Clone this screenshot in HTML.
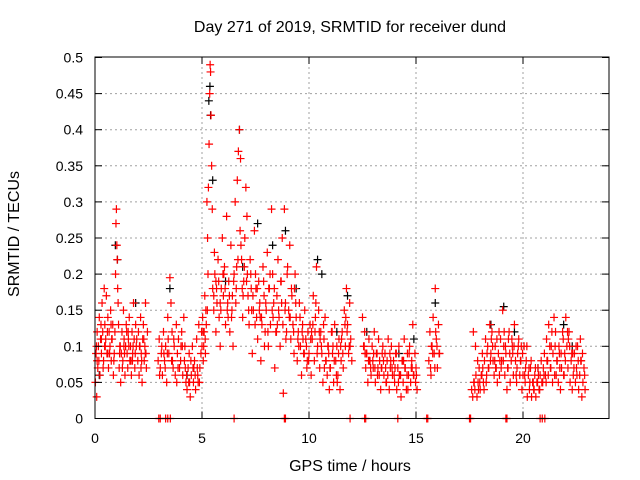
<!DOCTYPE html>
<html><head><meta charset="utf-8"><style>
body{margin:0;background:#fff}
svg{display:block}
text{font-family:"Liberation Sans",sans-serif;font-size:14px;fill:#000}
.big{font-size:16px}
</style></head><body>
<svg id="c" width="640" height="480">
<text class="big" x="350" y="32" text-anchor="middle">Day 271 of 2019, SRMTID for receiver dund</text>
<text class="big" x="350" y="471" text-anchor="middle">GPS time / hours</text>
<text class="big" x="19" y="234" text-anchor="middle" transform="rotate(-90 19 234)">SRMTID / TECUs</text>
<g id="grid"></g><g id="marks"></g><g id="axes"></g>
</svg>
<script>
const xTicks=[0,5,10,15,20];
const yTicks=[0,0.05,0.1,0.15,0.2,0.25,0.3,0.35,0.4,0.45,0.5];
const yLabels=["0","0.05","0.1","0.15","0.2","0.25","0.3","0.35","0.4","0.45","0.5"];
const redT=[0.02,0.05,0.08,0.1,0.13,0.16,0.2,0.23,0.26,0.3,0.33,0.36,0.4,0.43,0.46,0.5,0.53,0.56,0.6,0.63,0.66,0.7,0.73,0.76,0.8,0.83,0.86,0.9,0.93,0.96,0.98,
1.0,1.02,1.04,1.06,1.1,1.13,1.16,1.2,1.23,1.26,1.3,1.33,1.36,1.4,1.43,1.46,1.5,1.53,1.56,1.6,1.63,1.66,1.7,1.73,1.76,1.8,1.83,1.86,1.9,1.93,
2.0,2.03,2.06,2.1,2.13,2.16,2.2,2.23,2.26,2.3,2.33,2.36,2.4,2.45,
2.95,3.0,3.05,3.1,3.15,3.2,3.25,3.3,3.35,3.4,3.45,3.5,3.55,3.6,3.65,3.7,3.75,3.8,3.85,3.9,3.95,
4.0,4.05,4.1,4.15,4.2,4.25,4.3,4.35,4.4,4.45,4.5,4.55,4.6,4.65,4.7,4.75,4.8,4.85,4.9,4.95,
5.0,5.03,5.06,5.1,5.13,5.16,5.2,5.23,5.26,5.3,5.33,5.36,5.38,5.4,5.42,5.45,5.48,5.5,5.55,5.6,5.65,5.7,5.75,5.8,5.85,5.9,5.95,
6.0,6.05,6.1,6.15,6.2,6.25,6.3,6.35,6.4,6.45,6.5,6.55,6.6,6.65,6.7,6.75,6.8,6.85,6.9,6.95,
7.0,7.05,7.1,7.15,7.2,7.25,7.3,7.35,7.4,7.45,7.5,7.55,7.6,7.65,7.7,7.75,7.8,7.85,7.9,7.95,
8.0,8.05,8.1,8.15,8.2,8.25,8.3,8.35,8.4,8.45,8.5,8.55,8.6,8.65,8.7,8.75,8.8,8.85,8.9,8.95,
9.0,9.05,9.1,9.15,9.2,9.25,9.3,9.35,9.4,9.45,9.5,9.55,9.6,9.65,9.7,9.75,9.8,9.85,9.9,9.95,
10.0,10.05,10.1,10.15,10.2,10.25,10.3,10.35,10.4,10.45,10.5,10.55,10.6,10.65,10.7,10.75,10.8,10.85,10.9,10.95,
11.0,11.05,11.1,11.15,11.2,11.25,11.3,11.35,11.4,11.45,11.5,11.55,11.6,11.65,11.7,11.75,11.8,11.85,11.9,11.95,12.0,
12.5,12.55,12.6,12.65,12.7,12.75,12.8,12.85,12.9,12.95,
13.0,13.05,13.1,13.15,13.2,13.25,13.3,13.35,13.4,13.45,13.5,13.55,13.6,13.65,13.7,13.75,13.8,13.85,13.9,13.95,
14.0,14.05,14.1,14.15,14.2,14.25,14.3,14.35,14.4,14.45,14.5,14.55,14.6,14.65,14.7,14.75,14.8,14.85,14.9,14.95,15.0,15.05,
15.6,15.65,15.7,15.75,15.8,15.85,15.9,15.95,16.0,16.05,16.1,
17.6,17.65,17.7,17.75,17.8,17.85,17.9,17.95,
18.0,18.05,18.1,18.15,18.2,18.25,18.3,18.35,18.4,18.45,18.5,18.55,18.6,18.65,18.7,18.75,18.8,18.85,18.9,18.95,
19.0,19.05,19.1,19.15,19.2,19.25,19.3,19.35,19.4,19.45,19.5,19.55,19.6,19.65,19.7,19.75,19.8,19.85,19.9,19.95,
20.0,20.05,20.1,20.15,20.2,20.25,20.3,20.35,20.4,20.45,20.5,20.55,20.6,20.65,20.7,20.75,20.8,20.85,20.9,20.95,
21.0,21.05,21.1,21.15,21.2,21.25,21.3,21.35,21.4,21.45,21.5,21.55,21.6,21.65,21.7,21.75,21.8,21.85,21.9,21.95,
22.0,22.05,22.1,22.15,22.2,22.25,22.3,22.35,22.4,22.45,22.5,22.55,22.6,22.65,22.7,22.75,22.8,22.85,22.9];
const redV=[.05,.09,.03,.12,.07,.1,.14,.06,.11,.09,.16,.12,.08,.18,.13,.11,.17,.09,.14,.07,.12,.1,.15,.08,.11,.13,.06,.09,.12,.2,.27,
.29,.24,.22,.18,.13,.07,.1,.05,.09,.12,.08,.15,.11,.06,.1,.13,.09,.07,.11,.14,.08,.1,.06,.12,.09,.16,.11,.07,.13,.1,
.08,.12,.06,.1,.14,.09,.05,.11,.13,.08,.1,.16,.07,.12,
.08,.11,.07,.09,.06,.12,.08,.1,.05,.14,.09,.195,.16,.12,.07,.1,.06,.13,.09,.11,.07,
.08,.12,.06,.14,.1,.05,.04,.07,.09,.03,.06,.1,.05,.08,.04,.11,.06,.13,.07,.09,
.1,.14,.08,.12,.17,.09,.13,.3,.25,.32,.38,.45,.49,.48,.42,.35,.29,.18,.15,.2,.12,.16,.22,.14,.1,.18,.25,
.17,.21,.13,.28,.16,.19,.12,.24,.15,.1,.2,.3,.18,.33,.37,.4,.36,.22,.14,.19,
.25,.32,.28,.17,.13,.22,.18,.09,.15,.26,.2,.14,.11,.19,.16,.08,.13,.21,.17,.12,
.15,.23,.1,.18,.13,.29,.2,.16,.07,.12,.17,.22,.14,.1,.19,.25,.035,.29,.16,.12,
.21,.15,.24,.11,.17,.13,.09,.2,.14,.08,.12,.16,.1,.06,.13,.09,.15,.11,.07,.12,
.09,.13,.06,.11,.17,.08,.14,.21,.1,.15,.07,.12,.09,.05,.11,.14,.08,.06,.1,.04,
.07,.12,.09,.05,.13,.08,.1,.06,.11,.04,.08,.12,.07,.15,.1,.18,.13,.09,.16,.11,.08,
.14,.1,.12,.07,.09,.05,.11,.08,.06,.1,
.07,.12,.05,.09,.06,.11,.08,.04,.07,.1,.06,.09,.05,.08,.11,.04,.07,.1,.06,.08,
.05,.09,.04,.07,.1,.06,.03,.08,.05,.11,.07,.04,.09,.06,.1,.05,.08,.13,.06,.09,.07,.04,
.08,.12,.06,.1,.14,.09,.18,.11,.07,.13,.09,
.04,.03,.05,.04,.06,.03,.05,.07,
.04,.06,.09,.05,.08,.11,.06,.1,.07,.13,.09,.12,.08,.06,.1,.07,.05,.09,.06,.11,
.08,.15,.1,.06,.09,.04,.07,.12,.05,.08,.1,.06,.13,.08,.05,.09,.11,.06,.08,.04,
.06,.1,.05,.08,.03,.06,.04,.07,.03,.05,.04,.06,.03,.05,.07,.04,.06,.08,.05,.07,
.09,.06,.11,.08,.13,.1,.07,.12,.09,.14,.1,.06,.08,.05,.09,.04,.07,.12,.06,.09,
.14,.1,.07,.12,.05,.08,.04,.06,.09,.05,.07,.1,.04,.06,.08,.03,.05,.07,.04];
const red2T=[0.1,0.3,0.45,0.6,0.75,1.15,1.35,1.55,1.75,1.95,2.15,2.35,3.02,3.22,3.42,3.62,3.82,4.02,4.22,4.42,4.62,4.82,5.05,5.15,5.25,5.55,5.65,5.85,6.02,6.22,6.42,6.62,6.82,6.92,7.12,7.32,7.52,7.72,7.92,8.12,8.32,8.52,8.72,8.92,9.12,9.32,9.52,9.72,9.92,10.12,10.32,10.52,10.72,10.92,11.12,11.32,11.52,11.72,11.92,12.62,12.82,13.02,13.22,13.42,13.62,13.82,14.02,14.22,14.42,14.62,14.82,15.02,15.72,15.92,17.72,17.92,18.12,18.32,18.52,18.72,18.92,19.12,19.32,19.52,19.72,19.92,20.12,20.32,20.52,20.72,20.92,21.12,21.32,21.52,21.72,21.92,22.12,22.32,22.52,22.72];
const red2V=[.08,.11,.1,.09,.13,.09,.1,.12,.08,.11,.07,.09,.06,.09,.11,.08,.05,.1,.07,.05,.07,.05,.12,.11,.15,.17,.19,.16,.2,.14,.17,.21,.24,.17,.2,.15,.18,.14,.1,.18,.14,.13,.16,.11,.14,.18,.1,.11,.08,.12,.16,.11,.07,.09,.1,.05,.11,.14,.1,.09,.08,.09,.07,.09,.05,.08,.07,.06,.08,.04,.07,.06,.1,.12,.05,.04,.07,.09,.11,.07,.08,.12,.11,.09,.07,.1,.07,.05,.04,.06,.05,.08,.1,.12,.07,.06,.11,.09,.06,.08];
const red3T=[0.07,0.18,0.28,0.38,0.48,0.58,0.68,0.78,0.88,1.08,1.18,1.28,1.38,1.48,1.58,1.68,1.78,1.88,2.08,2.18,2.28,2.38,3.12,3.28,3.38,3.58,3.68,3.88,4.08,4.18,4.28,4.38,4.48,4.58,4.68,4.78,4.88,4.98,5.08,5.18,5.28,5.58,5.68,5.78,5.88,5.98,6.08,6.18,6.28,6.38,6.48,6.58,6.68,6.78,6.88,6.98,7.08,7.18,7.28,7.38,7.48,7.58,7.68,7.78,7.88,7.98,8.08,8.18,8.28,8.38,8.48,8.58,8.68,8.78,8.88,8.98,9.08,9.18,9.28,9.38,9.48,9.58,9.68,9.78,9.88,9.98,10.08,10.18,10.28,10.38,10.48,10.58,10.68,10.78,10.88,10.98,11.08,11.18,11.28,11.38,11.48,11.58,11.68,11.78,11.88,12.58,12.68,12.78,12.88,12.98,13.08,13.18,13.28,13.38,13.48,13.58,13.68,13.78,13.88,13.98,14.08,14.18,14.28,14.38,14.48,14.58,14.68,14.78,14.88,14.98,15.68,15.78,15.88,15.98,16.08,17.68,17.78,17.88,17.98,18.08,18.18,18.28,18.38,18.48,18.58,18.68,18.78,18.88,18.98,19.08,19.18,19.28,19.38,19.48,19.58,19.68,19.78,19.88,19.98,20.08,20.18,20.28,20.38,20.48,20.58,20.68,20.78,20.88,20.98,21.08,21.18,21.28,21.38,21.48,21.58,21.68,21.78,21.88,21.98,22.08,22.18,22.28,22.38,22.48,22.58,22.68,22.78,22.88];
const red3V=[.1,.08,.13,.07,.1,.12,.09,.11,.08,.16,.1,.07,.09,.12,.1,.08,.1,.09,.1,.08,.11,.09,.1,.07,.09,.08,.11,.07,.1,.08,.06,.05,.08,.07,.06,.07,.05,.12,.1,.15,.2,.23,.18,.19,.15,.2,.18,.15,.17,.14,.19,.16,.22,.26,.18,.21,.19,.15,.2,.17,.13,.18,.15,.14,.19,.16,.12,.2,.15,.18,.12,.15,.19,.13,.15,.2,.14,.18,.12,.16,.11,.14,.12,.09,.1,.08,.11,.13,.12,.09,.12,.1,.13,.08,.1,.07,.12,.08,.06,.09,.1,.09,.13,.12,.1,.1,.09,.08,.07,.08,.07,.09,.06,.07,.08,.07,.06,.09,.07,.06,.09,.05,.06,.08,.07,.06,.09,.07,.06,.05,.07,.09,.07,.1,.09,.12,.1,.08,.05,.06,.04,.05,.07,.08,.1,.08,.11,.12,.07,.08,.1,.07,.09,.11,.1,.06,.1,.08,.09,.06,.1,.07,.08,.05,.07,.05,.04,.05,.06,.05,.06,.07,.05,.06,.08,.1,.09,.11,.08,.12,.1,.09,.07,.1,.08,.11,.09,.06,.08,.07,.06,.05,.06,.05];
const blackT=[0.2,0.95,1.05,1.9,3.5,4.3,5.32,5.37,5.4,5.5,6.1,6.75,6.9,7.6,8.3,8.9,9.4,10.4,10.6,11.3,11.8,12.7,14.2,14.9,15.9,18.5,19.1,19.6,20.7,21.9,22.3];
const blackV=[.06,.24,.22,.16,.18,.06,.44,.46,.42,.33,.19,.4,.21,.27,.24,.26,.18,.22,.2,.12,.17,.12,.09,.11,.16,.13,.155,.12,.07,.13,.1];
const zeroT=[2.98,3.05,3.3,3.4,3.52,6.5,8.85,8.9,11.92,12.6,12.65,14.15,15.5,15.55,17.5,17.55,19.2,19.25,20.8,20.9,21.02];

const X0=95,PX=21.4,Y0=418.5,PY=722;
const sx=t=>X0+t*PX, sy=v=>Y0-v*PY;
const NS='http://www.w3.org/2000/svg';
function mk(tag,attrs,parent){const e=document.createElementNS(NS,tag);for(const k in attrs)e.setAttribute(k,attrs[k]);parent.appendChild(e);return e;}
const grid=document.getElementById('grid'),axes=document.getElementById('axes'),marks=document.getElementById('marks');
xTicks.forEach(t=>{
 if(t>0){const g=mk('line',{x1:sx(t),x2:sx(t),y1:57,y2:Y0,stroke:'#a0a0a0','stroke-dasharray':'2,3'},grid);
 
 }
 mk('line',{x1:sx(t),x2:sx(t),y1:Y0,y2:Y0-7,stroke:'#000'},axes);
 mk('line',{x1:sx(t),x2:sx(t),y1:57,y2:64,stroke:'#000'},axes);
 const l=mk('text',{x:sx(t),y:443,'text-anchor':'middle'},axes);l.textContent=t;
 
 
});
yTicks.forEach((v,i)=>{
 if(i>0&&i<yTicks.length-1){const g=mk('line',{x1:X0,x2:609,y1:sy(v),y2:sy(v),stroke:'#a0a0a0','stroke-dasharray':'2,3'},grid);
 
 }
 mk('line',{x1:X0,x2:X0+7,y1:sy(v),y2:sy(v),stroke:'#000'},axes);
 mk('line',{x1:602,x2:609,y1:sy(v),y2:sy(v),stroke:'#000'},axes);
 const l=mk('text',{x:83,y:sy(v)+5,'text-anchor':'end'},axes);l.textContent=yLabels[i];
 
 
});
const fr=mk('rect',{x:X0,y:57,width:609-X0,height:Y0-57,fill:'none',stroke:'#000'},axes);


function plus(t,v,col,name){
 const x=sx(t),y=sy(v);
 const p=mk('path',{d:`M${x-4},${y}h8M${x},${y-4}v8`,stroke:col,'stroke-width':1.2,fill:'none'},marks);
 
 
}
blackT.forEach((t,i)=>plus(t,blackV[i],'#000','black-point'));
redT.forEach((t,i)=>plus(t,redV[i],'#ff0000','red-point'));
red2T.forEach((t,i)=>plus(t,red2V[i],'#ff0000','red-point'));
red3T.forEach((t,i)=>plus(t,red3V[i],'#ff0000','red-point'));
zeroT.forEach(t=>plus(t,0,'#ff0000','zero-point'));
</script>
</body></html>
